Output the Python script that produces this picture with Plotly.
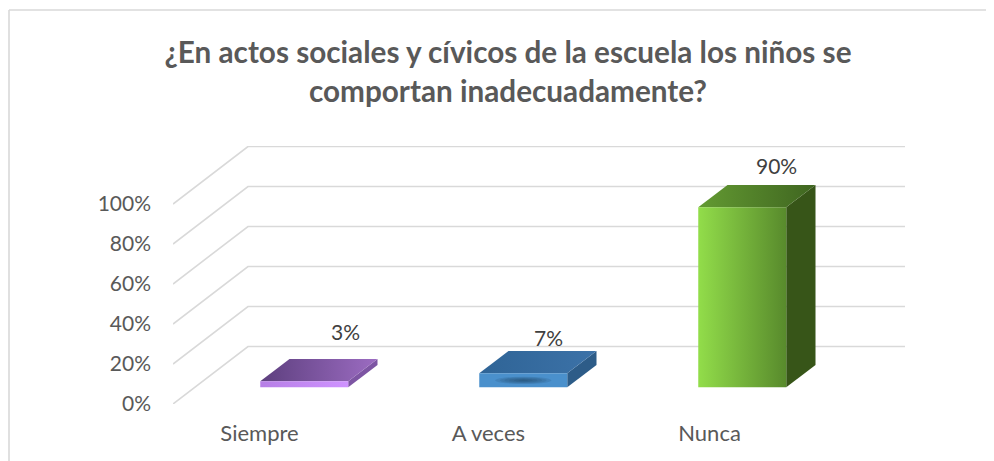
import plotly.graph_objects as go

title_lines = ["¿En actos sociales y cívicos de la escuela los niños se", "comportan inadecuadamente?"]
categories = ["Siempre", "A veces", "Nunca"]
values = [3, 7, 90]
value_labels = ["3%", "7%", "90%"]
y_ticks = [0, 20, 40, 60, 80, 100]
y_tick_labels = ["0%", "20%", "40%", "60%", "80%", "100%"]

# colours per bar: (front gradient, top gradient, side gradient)
front_colors = [["#b67fe6", "#cf93ff"],
                ["#4a90cc", "#4a90cc"],
                ["#92dd4a", "#588a2c"]]
top_colors = [["#5d3f7e", "#9c6cc2"],
              ["#2f6496", "#3c72a8"],
              ["#639a32", "#3f6520"]]
side_colors = ["#7d55a3", "#2d5c88", "#375518"]

# the page adds an 8 px body margin, so the figure is laid out 8 px up and left
PAGE = 8
W, H = 994 - PAGE, 461 - PAGE
L, R, T, B = 173 - PAGE, 89, 146 - PAGE, 57
UNIT_X = 219.0          # px per category
UNIT_Y = 2.0            # px per percent
DEPTH_X = 75 / UNIT_X
DEPTH_Y = 57.5 / UNIT_Y
X0 = -0.5
X1 = X0 + (W - L - R) / UNIT_X
Y1 = (H - T - B) / UNIT_Y
BAR_W = 88 / UNIT_X
D_START, D_END = 0.29, 0.68

fig = go.Figure()


def poly(xs, ys, **kw):
    fig.add_trace(go.Scatter(x=xs + xs[:1], y=ys + ys[:1], mode="lines", fill="toself",
                             line=dict(width=0), hoverinfo="skip", showlegend=False, **kw))


def grad(colors):
    n = len(colors) - 1
    return dict(type="horizontal", colorscale=[[i / n, c] for i, c in enumerate(colors)])


# gridlines: front edge, diagonal, back wall
for t in y_ticks:
    fig.add_trace(go.Scatter(x=[X0, X0 + DEPTH_X, X1], y=[t, t + DEPTH_Y, t + DEPTH_Y],
                             mode="lines", line=dict(color="#d9d9d9", width=1.6),
                             hoverinfo="skip", showlegend=False))

# bars
for i, v in enumerate(values):
    xl = i - BAR_W / 2 + D_START * DEPTH_X
    xr = xl + BAR_W
    y0 = D_START * DEPTH_Y
    dx = (D_END - D_START) * DEPTH_X
    dy = (D_END - D_START) * DEPTH_Y
    poly([xr, xr + dx, xr + dx, xr], [y0, y0 + dy, y0 + dy + v, y0 + v],
         fillcolor=side_colors[i])
    poly([xl, xr, xr + dx, xl + dx], [y0 + v, y0 + v, y0 + v + dy, y0 + v + dy],
         fillgradient=grad(top_colors[i]), fillcolor=top_colors[i][0])
    poly([xl, xr, xr, xl], [y0, y0, y0 + v, y0 + v],
         fillgradient=grad(front_colors[i]), fillcolor=front_colors[i][0])

# soft dark spot on the front of the middle bar, built of nested ellipses
spot = 1
cx = spot + D_START * DEPTH_X
cy = D_START * DEPTH_Y + values[spot] / 2
for k in range(1, 7):
    rx = BAR_W * 0.32 * k / 6
    ry = values[spot] * 0.26 * k / 6
    fig.add_shape(type="circle", xref="x", yref="y", x0=cx - rx, x1=cx + rx, y0=cy - ry, y1=cy + ry,
                  fillcolor="#1f4566", opacity=0.16, line=dict(width=0), layer="above")

# data labels, anchored on the bars
label_shift = [(41, 50), (25, 36), (34, 42)]
for i, v in enumerate(values):
    fig.add_annotation(x=i + D_START * DEPTH_X, y=D_START * DEPTH_Y + v, text=value_labels[i],
                       showarrow=False, xshift=label_shift[i][0], yshift=label_shift[i][1],
                       font=dict(family="Lato", size=21, color="#404040"))

# chart frame (top and left edges)
FRAME_X, FRAME_Y = 9 - PAGE, 10 - PAGE
for sh in [dict(x0=FRAME_X, x1=W, y0=H - FRAME_Y, y1=H - FRAME_Y),
           dict(x0=FRAME_X, x1=FRAME_X, y0=H - FRAME_Y, y1=0)]:
    fig.add_shape(type="line", xref="paper", yref="paper",
                  x0=(sh["x0"] - L) / (W - L - R), x1=(sh["x1"] - L) / (W - L - R),
                  y0=(sh["y0"] - B) / (H - T - B), y1=(sh["y1"] - B) / (H - T - B),
                  line=dict(color="#d9d9d9", width=1.6))

tick_shift = [-0.105, -0.06, -0.05]
fig.update_layout(
    width=W, height=H, autosize=False,
    margin=dict(l=L, r=R, t=T, b=B),
    paper_bgcolor="white", plot_bgcolor="rgba(0,0,0,0)", showlegend=False,
    title=dict(text="<b>" + "<br>".join(title_lines) + "</b>",
               x=(508 - PAGE) / W, xanchor="center", y=1 - (63 - PAGE) / H, yanchor="middle",
               font=dict(family="Lato", size=29.7, color="#595959")),
    xaxis=dict(range=[X0, X1], showgrid=False, zeroline=False, showline=False, ticks="",
               tickmode="array", tickvals=[i + s for i, s in enumerate(tick_shift)],
               ticktext=categories, ticklabelstandoff=14,
               tickfont=dict(family="Lato", size=22, color="#595959")),
    yaxis=dict(range=[0, Y1], showgrid=False, zeroline=False, showline=False, ticks="",
               tickmode="array", tickvals=y_ticks, ticktext=y_tick_labels, ticklabelstandoff=21,
               tickfont=dict(family="Lato", size=21, color="#595959")),
)

fig.write_html("out.html")
